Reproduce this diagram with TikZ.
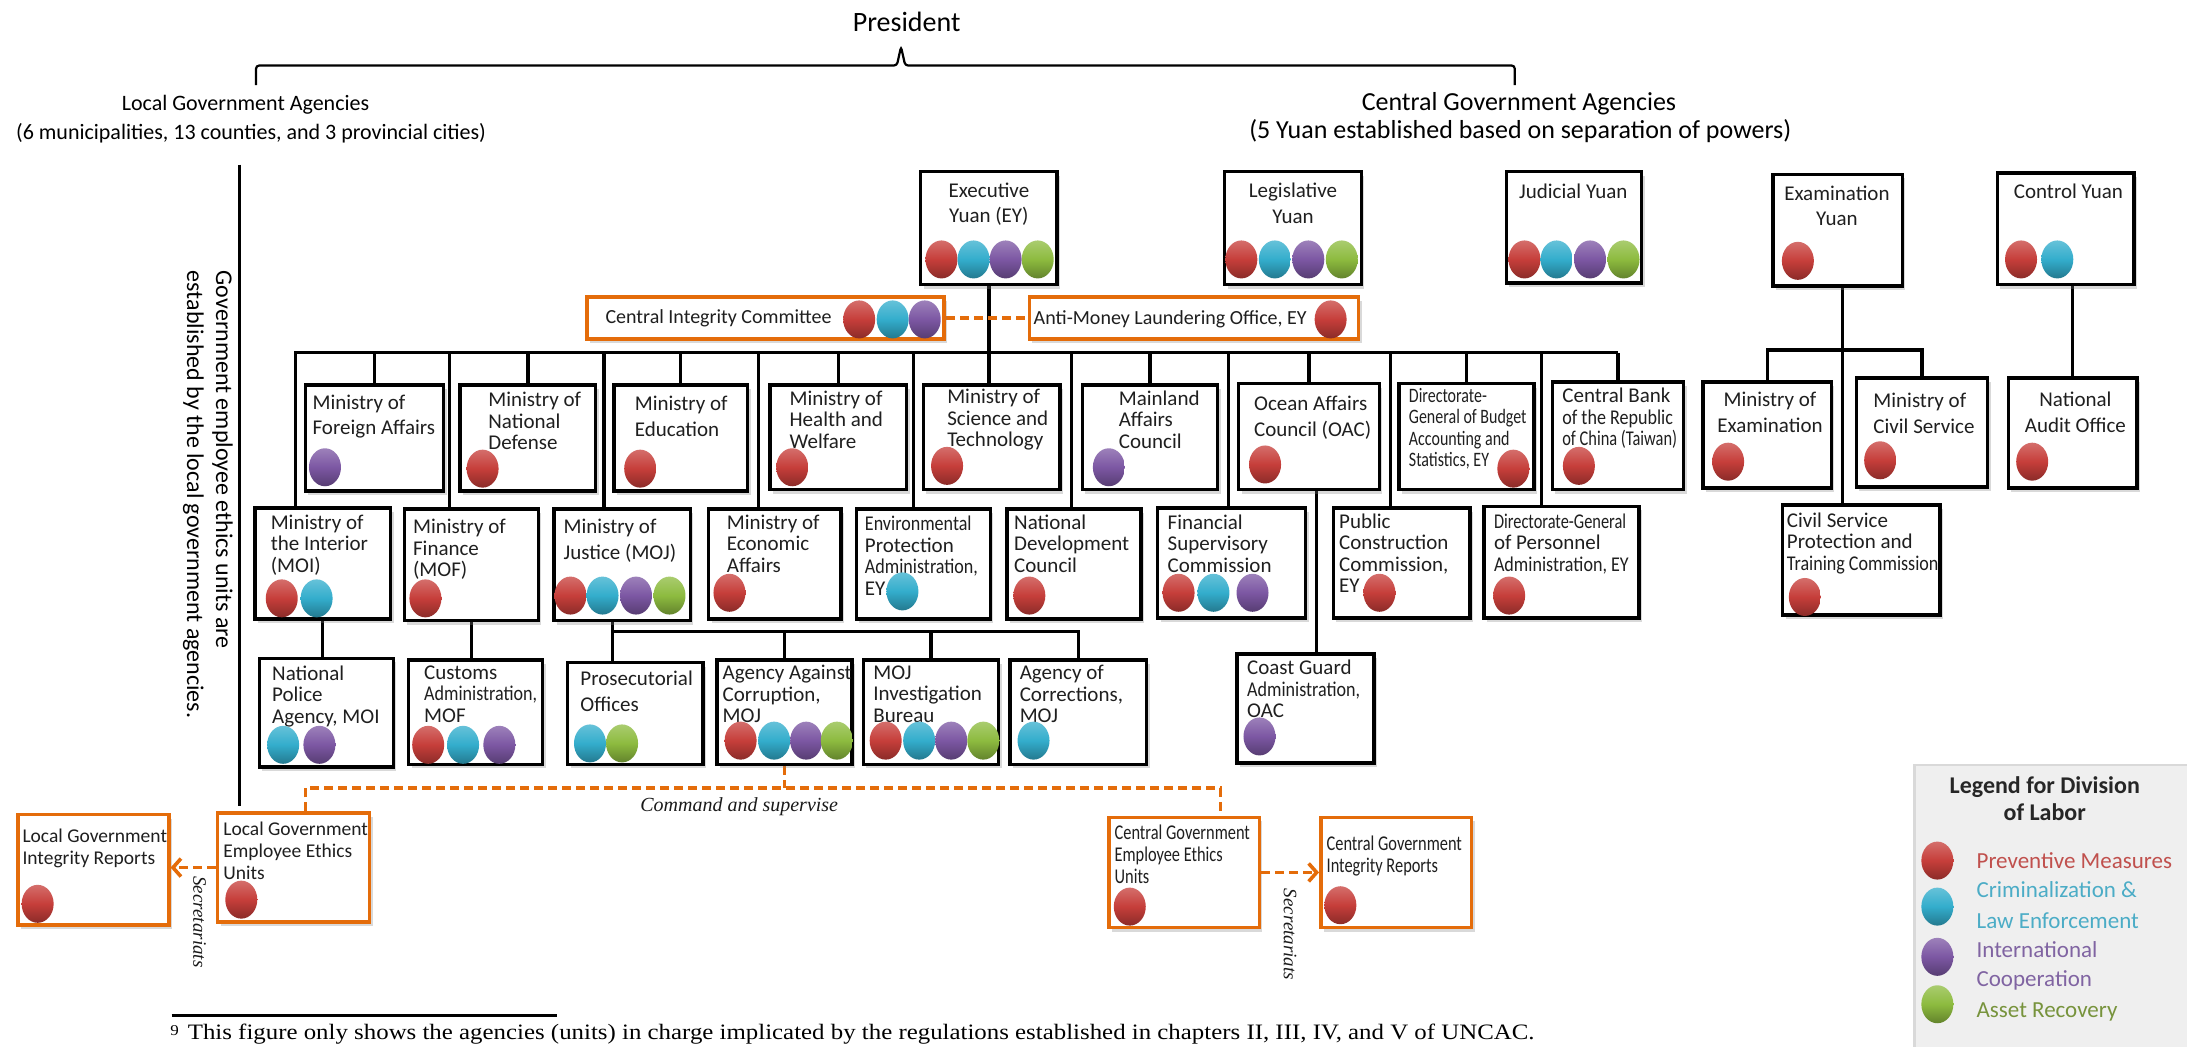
\documentclass[tikz,border=0pt]{standalone}
\usepackage{fontspec}
\setmainfont{Carlito}
\newfontfamily\cnfont[FakeStretch=0.86]{Carlito}
\newfontfamily\cnnfont[FakeStretch=0.78]{Carlito}
\newfontfamily\fnserif{Liberation Serif}
\newfontfamily\fnserifw[FakeStretch=1.13]{Liberation Serif}
\usetikzlibrary{fit,shadows,arrows.meta,calc}
\definecolor{cRed}{HTML}{C63E3A}
\definecolor{cBlue}{HTML}{33ADCC}
\definecolor{cPurple}{HTML}{7C57A3}
\definecolor{cGreen}{HTML}{8DBB3F}
\definecolor{cOrange}{HTML}{E46C0A}
\definecolor{tRed}{HTML}{C0504D}
\definecolor{tBlue}{HTML}{4BACC6}
\definecolor{tPurple}{HTML}{8064A2}
\definecolor{tGreen}{HTML}{77933C}
\definecolor{legbg}{HTML}{EFEFEF}
\pgfdeclarelayer{bg}
\pgfsetlayers{bg,main}
\newcommand\cn[1]{{\cnfont #1}}
\newcommand\cnn[1]{{\cnnfont #1}}
\newcommand\putdots[2]{\foreach \dx/\dc in {#2}{\shade[top color=\dc!75!white, bottom color=\dc!70!black, middle color=\dc] (\dx,#1) ellipse [x radius=16pt, y radius=19pt];}}
\begin{document}
\begin{tikzpicture}[x=1.3948pt,y=-1.3948pt,
  box/.style={draw=black, line width=3.6pt, fill=white, inner sep=0pt, drop shadow={shadow xshift=3pt, shadow yshift=-4pt, opacity=0.3}},
  obox/.style={box, draw=cOrange},
  conn/.style={black, line width=3.2pt},
  odash/.style={cOrange, line width=3.6pt, dash pattern=on 9pt off 5pt},
  bt/.style={font=\fontsize{21}{21.5}\selectfont, align=left, inner sep=0pt, anchor=north west, text=black!88},
  bt2/.style={bt, font=\fontsize{21}{25.5}\selectfont},
  btc/.style={bt2, align=center, anchor=north},
  btl/.style={bt, font=\fontsize{19.5}{22}\selectfont},
  ital/.style={font=\fnserif\itshape\fontsize{19}{19}\selectfont, inner sep=0pt, text=black!90},
  leg/.style={font=\fontsize{23}{23}\selectfont, anchor=west, inner sep=0pt}
]
\useasboundingbox (0,0) rectangle (1568,750);
\clip (0,0) rectangle (1568,750);

% ---------- titles ----------
\node[font=\fontsize{28}{28}\selectfont] (pres) at (650,15.5) {President};
\draw[line width=2.2pt, rounded corners=3pt] (183.6,61) -- (183.6,47) -- (643,47) -- (646,33.5) -- (649,47) -- (1086,47) -- (1086,61);
\node[font=\fontsize{22}{22}\selectfont] (lga) at (176,75.3) {Local Government Agencies};
\node[font=\fontsize{22}{22}\selectfont] (lgb) at (180,95.6) {(6 municipalities, 13 counties, and 3 provincial cities)};
\node[font=\fontsize{26}{26}\selectfont] (cga) at (1089,74.6) {Central Government Agencies};
\node[font=\fontsize{26}{26}\selectfont] (cgb) at (1090,94) {(5 Yuan established based on separation of powers)};
\coordinate (lvtop) at (172,118);
\coordinate (lvbot) at (172,578);
\draw[line width=3pt] (lvtop) -- (lvbot);
\node[font=\fontsize{24}{29}\selectfont, align=left, rotate=-90, anchor=north west, inner sep=0pt] (vtext) at (167,194) {Government employee ethics units are\\established by the local government agencies.};

% ---------- Yuan row ----------
\node[box, fit={(660,123) (758,204)}] (EY) {};
\node[box, fit={(878,123) (976,204)}] (LY) {};
\node[box, fit={(1080,123) (1177,203)}] (JY) {};
\node[box, fit={(1271,125) (1364,205)}] (EXY) {};
\node[box, fit={(1432,124) (1530,204)}] (CY) {};
\node[btc] (tEY) at (709,131) {Executive\\Yuan (EY)};
\node[btc] (tLY) at (927,131) {Legislative\\Yuan};
\node[btc] (tJY) at (1128,131.5) {Judicial Yuan};
\node[btc] (tEXY) at (1317,133) {Examination\\Yuan};
\node[btc] (tCY) at (1483,132) {Control Yuan};
\putdots{186}{675/cRed,698/cBlue,721/cPurple,744/cGreen}
\putdots{186}{890/cRed,914/cBlue,938/cPurple,962/cGreen}
\putdots{186}{1093/cRed,1116/cBlue,1140/cPurple,1164/cGreen}
\putdots{187}{1289/cRed}
\putdots{186}{1449/cRed,1475/cBlue}

% ---------- orange committee boxes ----------
\node[obox, fit={(421,213) (677,243)}] (CIC) {};
\node[obox, fit={(738,213) (974,243)}] (AMLO) {};
\node[anchor=west, inner sep=0pt, font=\fontsize{20}{20}\selectfont, text=black!88] (tCIC) at (434,228) {Central Integrity Committee};
\node[anchor=west, inner sep=0pt, font=\fontsize{20}{20}\selectfont, text=black!88] (tAMLO) at (741,229) {Anti-Money Laundering Office, EY};
\putdots{229}{616/cRed,640/cBlue,663/cPurple}
\putdots{229}{954/cRed}

% ---------- row 2 ----------
\node[box, fit={(219,276) (318,352)}] (MOFA) {};
\node[box, fit={(330,276) (427,352)}] (MND) {};
\node[box, fit={(440,276) (536,352)}] (MOE) {};
\node[box, fit={(552,276) (650,351)}] (MOHW) {};
\node[box, fit={(662,276) (760,351)}] (MOST) {};
\node[box, fit={(776,276) (873,351)}] (MAC) {};
\node[box, fit={(888,275) (989,351)}] (OAC) {};
\node[box, fit={(1003,275) (1100,351)}] (DGBAS) {};
\node[box, fit={(1113,274) (1207,351)}] (CB) {};
\node[box, fit={(1221,274) (1313,350)}] (MOEx) {};
\node[box, fit={(1331,271) (1425,349)}] (MOCS) {};
\node[box, fit={(1440,271) (1532,350)}] (NAO) {};
\node[bt2] (tMOFA) at (224,283) {Ministry of\\Foreign Affairs};
\node[bt] (tMND) at (350,281) {Ministry of\\National\\Defense};
\node[bt2] (tMOE) at (455,284) {Ministry of\\Education};
\node[bt] (tMOHW) at (566,280) {Ministry of\\Health and\\Welfare};
\node[bt] (tMOST) at (679,279) {Ministry of\\Science and\\Technology};
\node[bt] (tMAC) at (802,280) {Mainland\\Affairs\\Council};
\node[bt2] (tOAC) at (899,284) {Ocean Affairs\\Council (OAC)};
\node[bt, font=\fontsize{20.5}{21.5}\selectfont] (tDGBAS) at (1010,278) {\cnn{Directorate-}\\\cnn{General of Budget}\\\cnn{Accounting and}\\\cnn{Statistics, EY}};
\node[bt] (tCB) at (1120,278) {Central Bank\\\cn{of the Republic}\\\cnn{of China (Taiwan)}};
\node[btc] (tMOEx) at (1269,281) {Ministry of\\Examination};
\node[bt2] (tMOCS) at (1343,282) {Ministry of\\Civil Service};
\node[btc] (tNAO) at (1488,281) {National\\Audit Office};
\putdots{335}{233/cPurple}
\putdots{336}{346/cRed}
\putdots{336}{459/cRed}
\putdots{335}{568/cRed}
\putdots{334}{679/cRed}
\putdots{335}{795/cPurple}
\putdots{333}{907/cRed}
\putdots{336}{1085/cRed}
\putdots{334}{1132/cRed}
\putdots{331}{1239/cRed}
\putdots{330}{1348/cRed}
\putdots{331}{1457/cRed}

% ---------- row 3 ----------
\node[box, fit={(183,364) (280,444)}] (MOI) {};
\node[box, fit={(290,365) (386,445)}] (MOF) {};
\node[box, fit={(397,365) (495,445)}] (MOJ) {};
\node[box, fit={(508,365) (603,444)}] (MOEA) {};
\node[box, fit={(614,365) (710,444)}] (EPA) {};
\node[box, fit={(722,365) (818,444)}] (NDC) {};
\node[box, fit={(830,364) (936,443)}] (FSC) {};
\node[box, fit={(956,364) (1054,443)}] (PCC) {};
\node[box, fit={(1064,363) (1175,443)}] (DGPA) {};
\node[box, fit={(1278,362) (1391,441)}] (CSPTC) {};
\node[bt] (tMOI) at (194,369) {Ministry of\\the Interior\\(MOI)};
\node[bt] (tMOF) at (296,372) {Ministry of\\Finance\\(MOF)};
\node[bt2] (tMOJ) at (404,372) {Ministry of\\Justice (MOJ)};
\node[bt] (tMOEA) at (521,369) {Ministry of\\Economic\\Affairs};
\node[bt] (tEPA) at (620,370) {\cn{Environmental}\\Protection\\\cn{Administration,}\\EY};
\node[bt] (tNDC) at (727,369) {National\\Development\\Council};
\node[bt] (tFSC) at (837,369) {Financial\\Supervisory\\Commission};
\node[bt] (tPCC) at (960,368) {Public\\Construction\\Commission,\\EY};
\node[bt] (tDGPA) at (1071,368) {\cnn{Directorate-General}\\of Personnel\\\cn{Administration, EY}};
\node[bt] (tCSPTC) at (1281,367.5) {Civil Service\\Protection and\\\cn{Training Commission}};
\putdots{429}{202/cRed,227/cBlue}
\putdots{429}{305/cRed}
\putdots{427}{409/cRed,432/cBlue,456/cPurple,480/cGreen}
\putdots{425}{523/cRed}
\putdots{424}{647/cBlue}
\putdots{427}{738/cRed}
\putdots{425}{845/cRed,870/cBlue,898/cPurple}
\putdots{425}{989/cRed}
\putdots{427}{1082/cRed}
\putdots{428}{1294/cRed}

% ---------- row 4 ----------
\node[box, fit={(186,472) (282,550)}] (NPA) {};
\node[box, fit={(293,473) (389,548)}] (CA) {};
\node[box, fit={(407,475) (504,548)}] (PO) {};
\node[box, fit={(514,473) (611,548)}] (AAC) {};
\node[box, fit={(619,473) (716,548)}] (MJIB) {};
\node[box, fit={(724,473) (822,548)}] (AOC) {};
\node[box, fit={(887,469) (985,547)}] (CGA) {};
\node[bt] (tNPA) at (195,477) {National\\Police\\Agency, MOI};
\node[bt] (tCA) at (304,477) {Customs\\\cn{Administration,}\\MOF};
\node[bt2] (tPO) at (416,481) {Prosecutorial\\Offices};
\node[bt] (tAAC) at (518,477) {Agency Against\\Corruption,\\MOJ};
\node[bt] (tMJIB) at (626,477) {MOJ\\Investigation\\Bureau};
\node[bt] (tAOC) at (731,477) {Agency of\\Corrections,\\MOJ};
\node[bt] (tCGA) at (894,473) {Coast Guard\\\cn{Administration,}\\OAC};
\putdots{534}{203/cBlue,229/cPurple}
\putdots{534}{307/cRed,332/cBlue,358/cPurple}
\putdots{533}{423/cBlue,446/cGreen}
\putdots{531}{531/cRed,555/cBlue,578/cPurple,600/cGreen}
\putdots{531}{635/cRed,659/cBlue,682/cPurple,705/cGreen}
\putdots{531}{741/cBlue}
\putdots{528}{903/cPurple}

% ---------- bottom orange boxes ----------
\node[obox, fit={(13,584) (121,663)}] (LGIR) {};
\node[obox, fit={(156,583) (265,661)}] (LGEEU) {};
\node[obox, fit={(795,586) (903,665)}] (CGEEU) {};
\node[obox, fit={(947,586) (1055,665)}] (CGIR) {};
\node[btl] (tLGIR) at (16,594) {Local Government\\Integrity Reports};
\node[btl] (tLGEEU) at (160,589) {Local Government\\Employee Ethics\\Units};
\node[btl, font=\fontsize{21}{22}\selectfont] (tCGEEU) at (799,591) {\cnn{Central Government}\\\cnn{Employee Ethics}\\\cnn{Units}};
\node[btl, font=\fontsize{21}{22}\selectfont] (tCGIR) at (951,599) {\cnn{Central Government}\\\cnn{Integrity Reports}};
\putdots{648}{27/cRed}
\putdots{645}{173/cRed}
\putdots{650}{810/cRed}
\putdots{649}{961/cRed}

\node[ital, font=\fnserif\itshape\fontsize{20}{20}\selectfont] (cmdtxt) at (530,578.6) {Command and supervise};
\node[ital, rotate=-90] (sec1) at (143,661) {Secretariats};
\node[ital, rotate=-90] (sec2) at (925,670) {Secretariats};

% ---------- connectors ----------
\begin{pgfonlayer}{bg}
\coordinate (busL) at (212,253);
\draw[conn] (CB.north |- busL) -- (busL) -- (busL |- MOI.north);
\draw[conn] (EY.south) -- (EY.south |- MOST.north);
\foreach \n in {MOFA,MND,MOE,MOHW,MAC,OAC,DGBAS,CB} {\draw[conn] (\n.north) -- (\n.north |- busL);}
\foreach \n/\xx in {MOF/322,MOJ/433,MOEA/544,EPA/655,NDC/768,FSC/881,PCC/997,DGPA/1105} {\coordinate (d\n) at (\xx,253); \draw[conn] (d\n) -- (d\n |- \n.north);}
\draw[conn] (MOI.south) -- (MOI.south |- NPA.north);
\draw[conn] (MOF.south) -- (MOF.south |- CA.north);
\coordinate (xMOJ) at (439,453);
\draw[conn] (MOJ.south -| xMOJ) -- (PO.north -| xMOJ);
\draw[conn] (xMOJ) -- (AOC.north |- xMOJ) -- (AOC.north);
\draw[conn] (AAC.north |- xMOJ) -- (AAC.north);
\draw[conn] (MJIB.north |- xMOJ) -- (MJIB.north);
\coordinate (xOAC) at (944,400);
\draw[conn] (OAC.south -| xOAC) -- (CGA.north -| xOAC);
\coordinate (eb) at (1321,251);
\draw[conn] (EXY.south -| eb) -- (CSPTC.north -| eb);
\draw[conn] (MOEx.north) -- (MOEx.north |- eb) -- (MOCS.north |- eb) -- (MOCS.north);
\draw[conn] (NAO.north |- CY.south) -- (NAO.north);
\draw[odash] (CIC.east) -- (AMLO.west);
\coordinate (cmdL) at (219,565);
\coordinate (cmdR) at (875,565);
\draw[odash] (LGEEU.north -| cmdL) -- (cmdL) -- (cmdR) -- (CGEEU.north -| cmdR);
\draw[odash] (AAC.south) -- (AAC.south |- cmdL);
\end{pgfonlayer}
\draw[odash, -{Straight Barb[length=8pt,width=18pt]}] (LGEEU.west) -- (LGEEU.west -| LGIR.east);
\draw[odash, -{Straight Barb[length=8pt,width=18pt]}] (CGEEU.east) -- (CGEEU.east -| CGIR.west);

% ---------- legend ----------
\node[fit={(1374,549) (1580,760)}, inner sep=0pt, fill=legbg, drop shadow={shadow xshift=-3pt, shadow yshift=2pt, opacity=0.3}] (legend) {};
\node[font=\bfseries\fontsize{24}{26.5}\selectfont, align=center, text=black!85] (legtitle) at (1466,572.5) {Legend for Division\\of Labor};
\putdots{617}{1389/cRed}
\putdots{650}{1389/cBlue}
\putdots{686}{1389/cPurple}
\putdots{720}{1389/cGreen}
\node[leg, text=tRed] (l1) at (1417,617) {Preventive Measures};
\node[leg, text=tBlue] (l2) at (1417,638) {Criminalization \&};
\node[leg, text=tBlue] (l3) at (1417,660) {Law Enforcement};
\node[leg, text=tPurple] (l4) at (1417,681) {International};
\node[leg, text=tPurple] (l5) at (1417,703) {Cooperation};
\node[leg, text=tGreen] (l6) at (1417,725.5) {Asset Recovery};

% ---------- footnote ----------
\coordinate (fnl) at (123,728);
\coordinate (fnr) at (399,728);
\draw[line width=2.2pt] (fnl) -- (fnr);
\node[anchor=base west, inner sep=0pt, font=\fnserifw\fontsize{22}{22}\selectfont] (fn) at (122,745.5) {\raisebox{4pt}{\fontsize{15}{15}\selectfont 9}\hspace{9pt}This figure only shows the agencies (units) in charge implicated by the regulations established in chapters II, III, IV, and V of UNCAC.};
\end{tikzpicture}
\end{document}
